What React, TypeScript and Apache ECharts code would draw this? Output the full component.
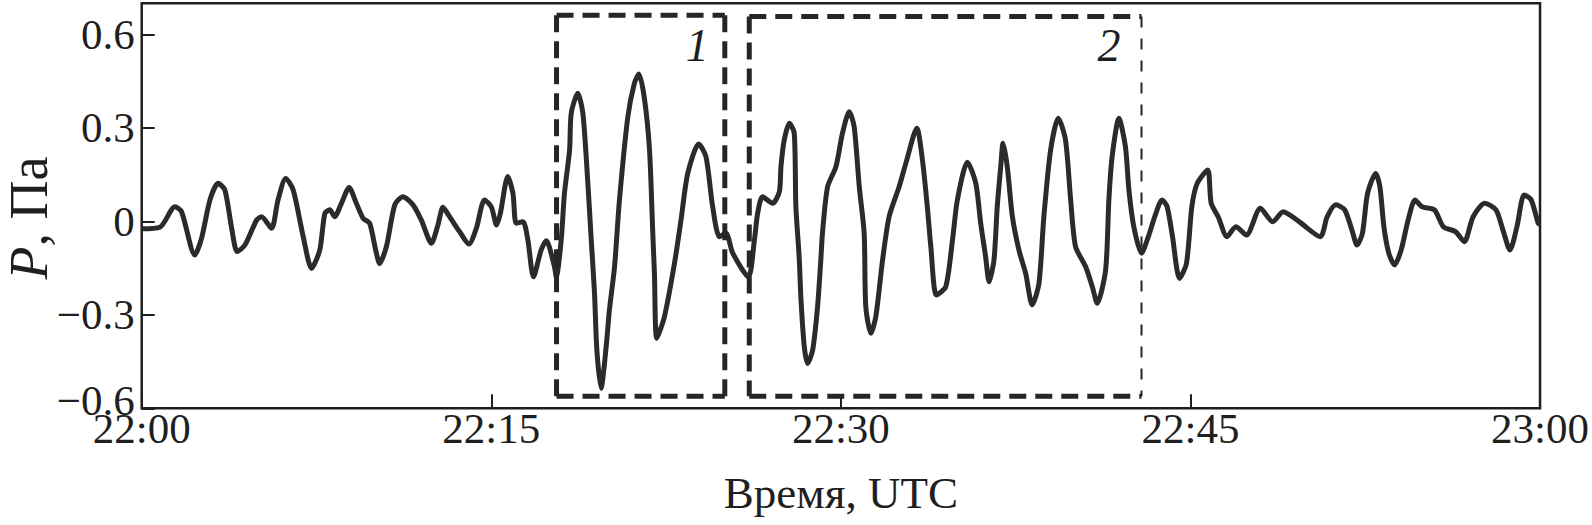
import React, { useEffect, useRef } from "react";
import * as echarts from "echarts";

// Minutes after 22:00 UTC
const timeMinutes = [
  0, 0.78, 1.43, 1.71, 2.28, 2.57, 2.93, 3.28, 3.57, 3.86, 4.1, 4.43, 4.93, 5.14, 5.57, 5.85, 6.18, 6.5, 6.93, 7.29,
  7.64, 7.86, 8.07, 8.28, 8.57, 8.9, 9.21, 9.5, 9.78, 10.04, 10.21, 10.5, 10.86, 11.21, 11.64, 12.0, 12.43, 12.71, 12.93, 13.21,
  13.64, 14.04, 14.36, 14.71, 15.0, 15.23, 15.39, 15.71, 15.93, 16.07, 16.36, 16.57, 16.81, 17.14, 17.36, 17.71, 17.79, 18.0, 18.14, 18.36,
  18.43, 18.71, 18.93, 19.14, 19.29, 19.43, 19.53, 19.71, 19.93, 20.07, 20.29, 20.5, 20.86, 21.14, 21.33, 21.57, 21.79, 21.93, 22.0, 22.1,
  22.43, 22.86, 23.14, 23.43, 23.9, 24.21, 24.5, 24.79, 25.07, 25.36, 26.03, 26.29, 26.43, 26.64, 27.07, 27.36, 27.43, 27.57, 27.79, 28.0,
  28.07, 28.21, 28.29, 28.43, 28.57, 28.79, 29.0, 29.14, 29.21, 29.43, 29.79, 30.07, 30.36, 30.57, 30.79, 31.0, 31.07, 31.29, 31.5, 31.79,
  32.07, 32.5, 32.79, 33.26, 33.5, 33.71, 33.86, 34.1, 34.5, 34.79, 35.0, 35.43, 35.79, 36.0, 36.21, 36.36, 36.57, 36.71, 36.86, 36.96,
  37.14, 37.36, 37.64, 37.93, 38.21, 38.5, 38.71, 39.0, 39.33, 39.64, 39.86, 40.07, 40.5, 40.79, 41.0, 41.36, 41.5, 41.64, 41.93, 42.21,
  42.36, 42.57, 42.9, 43.19, 43.47, 43.78, 44.0, 44.23, 44.53, 44.83, 45.06, 45.29, 45.74, 45.89, 46.19, 46.57, 46.95, 47.4, 48.0, 48.53,
  48.98, 49.66, 50.57, 50.87, 51.24, 51.62, 51.93, 52.15, 52.38, 52.6, 52.95, 53.13, 53.3, 53.51, 53.76, 54.04, 54.34, 54.64, 54.94, 55.47,
  55.85, 56.37, 56.75, 57.13, 57.63, 58.11, 58.41, 58.71, 59.01, 59.32, 59.62, 59.92, 60.0,
];

// Pressure, Pa
const pressure = [
  -0.024, -0.019, 0.047, 0.031, -0.108, -0.054, 0.069, 0.122, 0.101, -0.022, -0.097, -0.076, 0.004, 0.015, -0.022, 0.069, 0.138, 0.101, -0.049, -0.151,
  -0.092, 0.026, 0.037, 0.015, 0.058, 0.109, 0.058, 0.01, -0.006, -0.092, -0.135, -0.081, 0.053, 0.079, 0.053, 0.004, -0.07, -0.012, 0.045, 0.015,
  -0.033, -0.073, -0.022, 0.069, 0.047, -0.012, 0.026, 0.144, 0.09, -0.006, -0.001, -0.06, -0.178, -0.092, -0.062, -0.145, -0.178, -0.06, 0.09, 0.229,
  0.347, 0.411, 0.347, 0.127, -0.06, -0.231, -0.413, -0.536, -0.402, -0.284, -0.145, 0.069, 0.336, 0.443, 0.473, 0.395, 0.229, -0.038, -0.167, -0.375,
  -0.306, -0.135, 0.004, 0.154, 0.248, 0.208, 0.047, -0.049, -0.038, -0.102, -0.178, -0.06, 0.026, 0.079, 0.058, 0.095, 0.176, 0.261, 0.315, 0.283,
  0.047, -0.113, -0.252, -0.402, -0.456, -0.413, -0.274, -0.124, -0.038, 0.111, 0.176, 0.283, 0.352, 0.304, 0.111, -0.038, -0.274, -0.359, -0.306, -0.124,
  0.015, 0.111, 0.187, 0.299, 0.197, 0.047, -0.081, -0.236, -0.21, -0.06, 0.069, 0.19, 0.122, -0.006, -0.113, -0.194, -0.124, 0.047, 0.176, 0.251,
  0.176, 0.015, -0.092, -0.167, -0.268, -0.199, 0.015, 0.229, 0.331, 0.261, 0.069, -0.081, -0.145, -0.21, -0.263, -0.156, 0.069, 0.208, 0.331, 0.24,
  0.101, -0.017, -0.102, -0.05, 0.015, 0.069, 0.047, -0.049, -0.183, -0.135, 0.047, 0.122, 0.165, 0.058, 0.015, -0.049, -0.017, -0.044, 0.042, -0.001,
  0.031, -0.001, -0.049, 0.015, 0.053, 0.037, -0.028, -0.076, -0.038, 0.09, 0.154, 0.111, -0.017, -0.102, -0.14, -0.092, 0.004, 0.069, 0.047, 0.037,
  -0.017, -0.033, -0.065, 0.015, 0.058, 0.037, -0.028, -0.092, -0.017, 0.085, 0.069, -0.006, -0.01,
];

const xTickLabels = ["22:00", "22:15", "22:30", "22:45", "23:00"];
const yTickLabels: Record<string, string> = {
  "-0.6": "{low|\u22120.6}",
  "-0.3": "\u22120.3",
  "0": "0",
  "0.3": "0.3",
  "0.6": "0.6",
};

// Dashed analysis windows (minutes after 22:00, Pa)
const boxStart = [17.8, 26.07];
const boxEnd = [25.02, 42.9];
const boxTop = [0.662, 0.658];
const boxBottom = [-0.561, -0.561];
const boxLabels = ["1", "2"];
const boxLabelX = [23.84, 41.5];
const boxLabelY = [0.565, 0.565];

const INK = "#262626";
const TEXT = "#1f1f1f";
const SERIF = '"Liberation Serif", "Times New Roman", serif';

export default function App() {
  const ref = useRef<HTMLDivElement>(null);

  useEffect(() => {
    if (!ref.current) return;
    const chart = echarts.init(ref.current, null, { renderer: "svg" });

    const thick = { stroke: INK, lineWidth: 5, lineDash: [17, 9], fill: null };
    const thin = { stroke: INK, lineWidth: 2, lineDash: [11, 11], fill: null };

    chart.setOption({
      animation: false,
      backgroundColor: "#ffffff",
      grid: {
        left: 141.7,
        right: 50.3,
        top: 3.3,
        bottom: 116.7,
        show: true,
        borderColor: TEXT,
        borderWidth: 2.5,
        backgroundColor: "transparent",
      },
      xAxis: {
        type: "value",
        min: 0,
        max: 60,
        interval: 15,
        name: "Время, UTC",
        nameLocation: "middle",
        nameGap: 62,
        nameTextStyle: { fontFamily: SERIF, fontSize: 45, color: TEXT },
        axisLine: { show: false, onZero: false },
        axisTick: { show: true, inside: true, length: 14, lineStyle: { color: TEXT, width: 2 } },
        axisLabel: {
          fontFamily: SERIF,
          fontSize: 43,
          color: TEXT,
          margin: -1,
          formatter: (v: number) => xTickLabels[Math.round(v / 15)] ?? "",
        },
        splitLine: { show: false },
      },
      yAxis: {
        type: "value",
        min: -0.6,
        max: 0.7,
        interval: 0.3,
        axisLine: { show: false, onZero: false },
        axisTick: { show: true, inside: true, length: 13, lineStyle: { color: TEXT, width: 2 } },
        axisLabel: {
          fontFamily: SERIF,
          fontSize: 43,
          color: TEXT,
          margin: 7,
          showMaxLabel: false,
          formatter: (v: number) => yTickLabels[String(Math.round(v * 10) / 10)] ?? "",
          rich: {
            low: { fontFamily: SERIF, fontSize: 43, color: TEXT, padding: [0, 0, 16, 0] },
          },
        },
        splitLine: { show: false },
      },
      graphic: [
        {
          type: "text",
          x: 29,
          y: 218,
          rotation: Math.PI / 2,
          style: {
            text: "{i|P}, Па",
            fontFamily: SERIF,
            fontSize: 54,
            fill: TEXT,
            align: "center",
            verticalAlign: "middle",
            rich: {
              i: { fontFamily: SERIF, fontSize: 54, fontStyle: "italic", fill: TEXT },
            },
          },
        },
      ],
      series: [
        {
          type: "line",
          data: timeMinutes.map((t, i) => [t, pressure[i]]),
          showSymbol: false,
          symbol: "none",
          smooth: 0.25,
          lineStyle: { color: "#2b2b2b", width: 5 },
          z: 3,
        },
        {
          type: "custom",
          clip: false,
          z: 4,
          data: boxStart.map((s, i) => [s, boxTop[i]]),
          renderItem: (params: any, api: any) => {
            const i = params.dataIndex;
            const a = api.coord([boxStart[i], boxTop[i]]);
            const b = api.coord([boxEnd[i], boxBottom[i]]);
            const lp = api.coord([boxLabelX[i], boxLabelY[i]]);
            return {
              type: "group",
              children: [
                { type: "line", shape: { x1: a[0], y1: a[1], x2: b[0], y2: a[1] }, style: thick },
                { type: "line", shape: { x1: a[0], y1: a[1], x2: a[0], y2: b[1] }, style: thick },
                { type: "line", shape: { x1: a[0], y1: b[1], x2: b[0], y2: b[1] }, style: thick },
                { type: "line", shape: { x1: b[0], y1: a[1], x2: b[0], y2: b[1] }, style: i === 1 ? thin : thick },
                {
                  type: "text",
                  x: lp[0],
                  y: lp[1],
                  style: {
                    text: boxLabels[i],
                    fontFamily: SERIF,
                    fontSize: 46,
                    fontStyle: "italic",
                    fill: TEXT,
                    align: "center",
                    verticalAlign: "middle",
                  },
                },
              ],
            };
          },
        },
      ],
    });

    return () => chart.dispose();
  }, []);

  return (
    <div
      ref={ref}
      style={{ position: "fixed", left: 0, top: 0, width: 1592, height: 525, background: "#fff" }}
    />
  );
}
